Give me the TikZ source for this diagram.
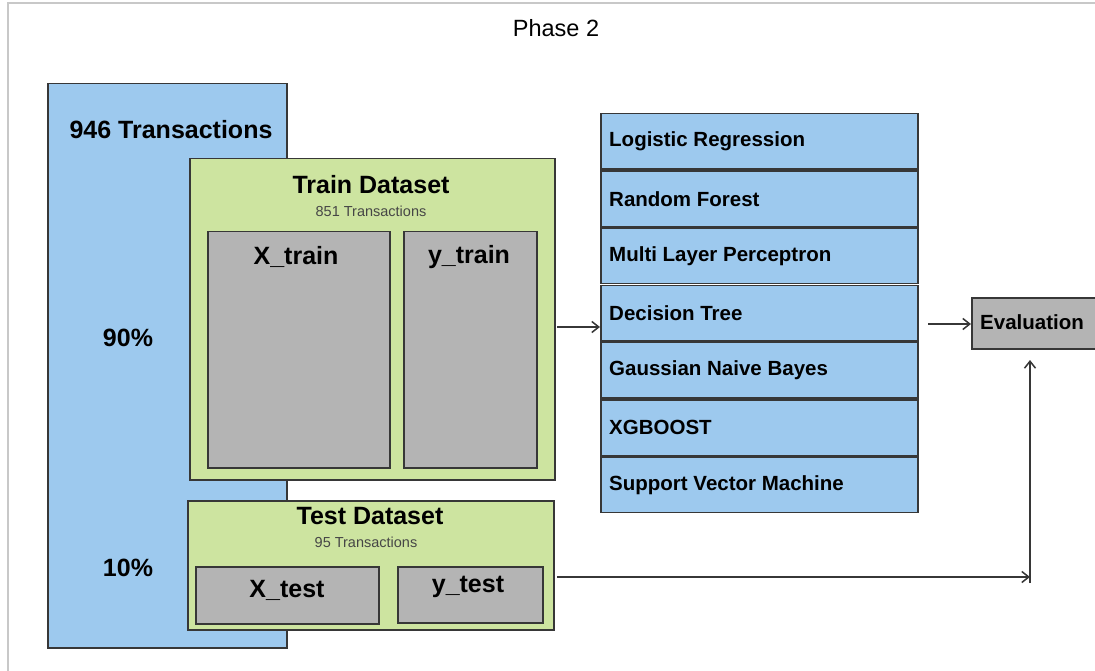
\documentclass[tikz,border=0pt]{standalone}
\usepackage{fontspec}
\setmainfont{Liberation Sans}
\usetikzlibrary{arrows.meta}
\definecolor{fblue}{RGB}{157,201,238}
\definecolor{fgreen}{RGB}{205,228,160}
\definecolor{fgray}{RGB}{180,180,180}
\definecolor{edge}{RGB}{55,55,55}
\definecolor{frame}{RGB}{200,200,200}
\definecolor{subtxt}{RGB}{70,70,70}
\tikzset{
  box/.style={draw=edge, line width=1.5pt, anchor=north west, inner sep=0pt},
  bluebox/.style={box, fill=fblue},
  greenbox/.style={box, fill=fgreen},
  graybox/.style={box, fill=fgray},
  modelbox/.style={box, fill=fblue, minimum width=317pt, minimum height=55.5pt},
  big/.style={font=\fontsize{25}{28}\selectfont\bfseries, inner sep=0pt},
  mid/.style={font=\fontsize{20.5}{24}\selectfont\bfseries, inner sep=0pt},
  small/.style={font=\fontsize{14.5}{17}\selectfont, text=subtxt, inner sep=0pt},
  arr/.style={draw=edge, line width=1.4pt, -{Straight Barb[length=7pt,width=11pt,line width=1.5pt]}},
  lbl/.style={anchor=west, mid},
}
\begin{document}
\begin{tikzpicture}[x=1pt,y=-1pt]
\clip (0,0) rectangle (1095,671);
\useasboundingbox (0,0) rectangle (1095,671);
\fill[white] (0,0) rectangle (1095,671);
\draw[frame, line width=2pt] (7.5,680) -- (7.5,3.5) -- (1100,3.5);
\node[font=\fontsize{23.5}{26}\selectfont, inner sep=0pt] (title) at (556,28) {Phase 2};

% big blue
\node[bluebox, minimum width=239pt, minimum height=564pt] (all) at (47,83) {};
\node[big] (allt) at (171,130) {946 Transactions};
\node[big] (p90) at (128,338) {90\%};
\node[big] (p10) at (128,568) {10\%};

% train
\node[greenbox, minimum width=365pt, minimum height=321pt] (train) at (189,158) {};
\node[big] (traint) at (371,185) {Train Dataset};
\node[small] (trains) at (371,211) {851 Transactions};
\node[graybox, minimum width=182pt, minimum height=236pt] (xtr) at (207,231) {};
\node[big] (xtrt) at (296,257) {X\_train};
\node[graybox, minimum width=133pt, minimum height=236pt] (ytr) at (403,231) {};
\node[big] (ytrt) at (469,257) {y\_train};

% test
\node[greenbox, minimum width=366pt, minimum height=129pt] (test) at (187,500) {};
\node[big] (testt) at (370,516) {Test Dataset};
\node[small] (tests) at (366,542) {95 Transactions};
\node[graybox, minimum width=183pt, minimum height=57pt] (xte) at (195,566) {};
\node[big] (xtet) at (287,590) {X\_test};
\node[graybox, minimum width=145pt, minimum height=56pt] (yte) at (397,566) {};
\node[big] (ytet) at (468,587) {y\_test};

% models
\node[modelbox] (m1) at (600,113) {};
\node[modelbox] (m2) at (600,170.2) {};
\node[modelbox] (m3) at (600,227.4) {};
\node[modelbox] (m4) at (600,284.6) {};
\node[modelbox] (m5) at (600,341.8) {};
\node[modelbox] (m6) at (600,399) {};
\node[modelbox] (m7) at (600,456.2) {};
\node[lbl] (l1) at ([xshift=9pt]m1.west) {Logistic Regression};
\node[lbl] (l2) at ([xshift=9pt]m2.west) {Random Forest};
\node[lbl] (l3) at ([xshift=9pt]m3.west) {Multi Layer Perceptron};
\node[lbl] (l4) at ([xshift=9pt]m4.west) {Decision Tree};
\node[lbl] (l5) at ([xshift=9pt]m5.west) {Gaussian Naive Bayes};
\node[lbl] (l6) at ([xshift=9pt]m6.west) {XGBOOST};
\node[lbl] (l7) at ([xshift=9pt]m7.west) {Support Vector Machine};

% evaluation
\node[graybox, minimum width=130pt, minimum height=51pt] (eval) at (971,297) {};
\node[mid, anchor=west] (evalt) at (980,322.5) {Evaluation};

% connectors
\coordinate (a1) at (557,327);
\draw[arr] (a1) -- (a1 -| m4.west);
\coordinate (a2) at (928,324);
\draw[arr] (a2) -- (a2 -| eval.west);
\coordinate (v0) at (1030,583);
\coordinate (v1) at (1030,360);
\draw[arr] (v0) -- (v1);
\coordinate (h0) at (557,577);
\draw[arr] (h0) -- (h0 -| v0);
\end{tikzpicture}
\end{document}
